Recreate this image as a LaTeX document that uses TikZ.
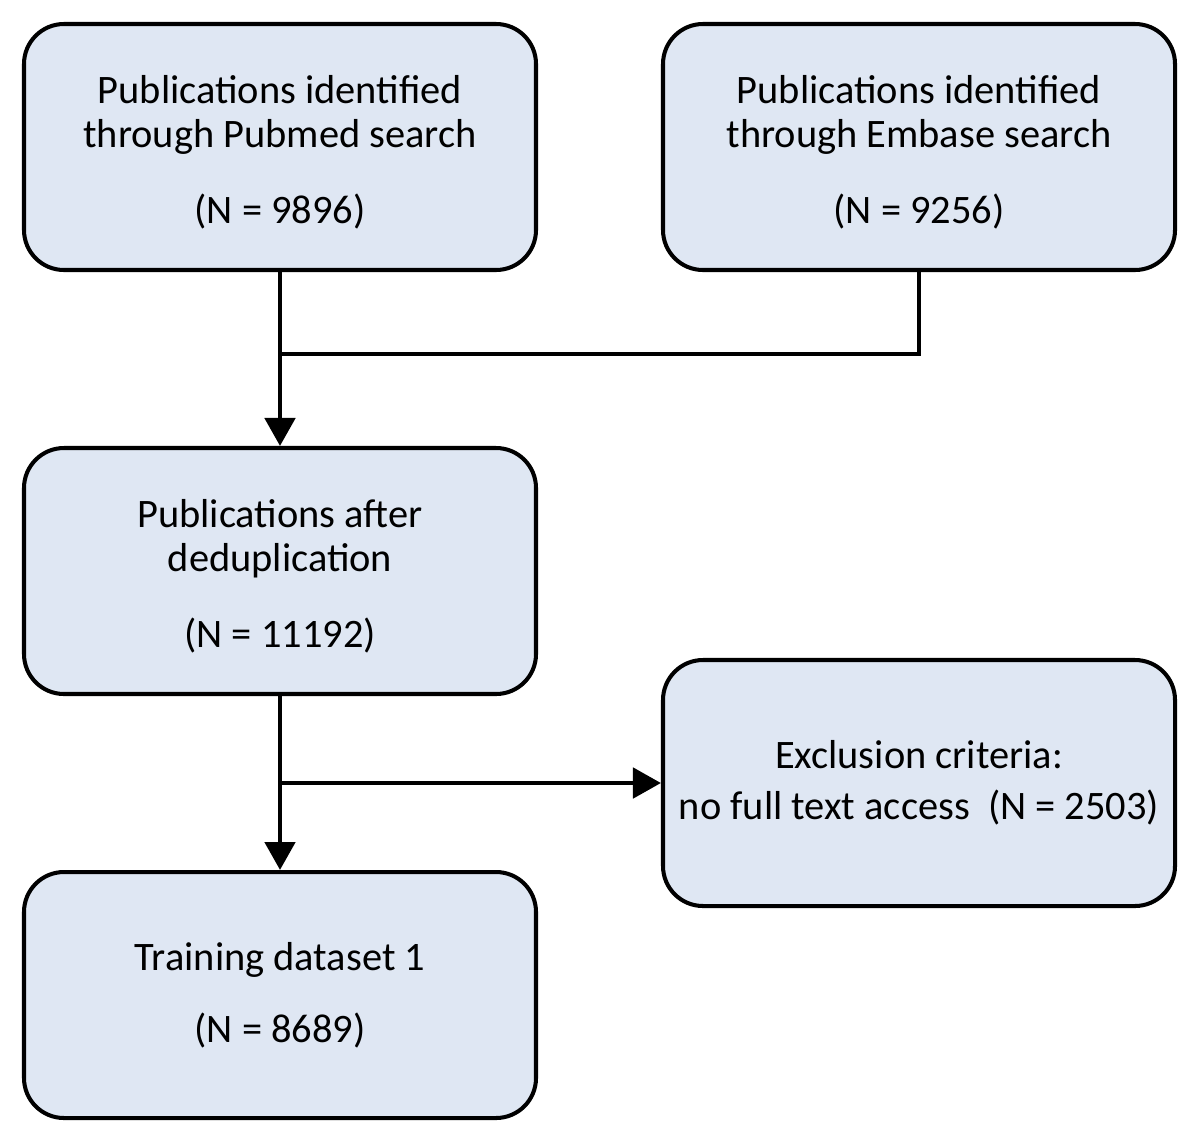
\documentclass[tikz,border=0pt]{standalone}
\usepackage{fontspec}
\setmainfont{Carlito}
\usetikzlibrary{arrows.meta}

% Taller first line, pushes a three-line block down a little.
\newcommand{\firstline}{\rule{0pt}{22pt}}

\begin{document}
\begin{tikzpicture}[%
        stagebox/.style = {%
            draw,
            line width = 2.3pt,
            fill = boxfill,
            rounded corners = 0.8cm,
            minimum width = 10.24cm,
            minimum height = 4.92cm,
            align = center,
            font = \fontsize{23}{25}\selectfont
        },
        flow/.style = {%
            line width = 2.8pt,
            -{Triangle[length = 0.56cm, width = 0.6cm]}
        },
        plain/.style = {%
            line width = 2.8pt
        }
    ]

        \definecolor{boxfill}{HTML}{DFE7F3}

        % Page frame (1200 x 1144 px at 0.02 cm per px).
        \useasboundingbox (0, 0) rectangle (24, -22.88);

        % The two searches.
        \node[stagebox] (pubmed) at (5.6, -2.94)
            {\firstline Publications identified\\through Pubmed search\\[0.64cm](N = 9896)};
        \node[stagebox] (embase) at (18.38, -2.94)
            {\firstline Publications identified\\through Embase search\\[0.64cm](N = 9256)};

        % After merging both searches.
        \node[stagebox] (dedup) at (5.6, -11.42)
            {\firstline Publications after\\deduplication\\[0.64cm](N = 11192)};

        % Excluded records.
        \node[stagebox] (exclusion) at (18.38, -15.66)
            {Exclusion criteria:\\[0.14cm]no full text access~~(N = 2503)};

        % Final set.
        \node[stagebox] (training) at (5.6, -19.9)
            {Training dataset 1\\[0.56cm](N = 8689)};

        % Junction points on the vertical lines.
        \coordinate (merge) at ([yshift = -1.64cm] pubmed.south);
        \coordinate (split) at (dedup.south |- exclusion.west);

        % Connectors.
        \draw[flow] (pubmed) -- (dedup);
        \draw[plain] (embase.south) |- (merge);
        \draw[flow] (dedup) -- (training);
        \draw[flow] (split) -- (exclusion.west);
    \end{tikzpicture}
\end{document}
